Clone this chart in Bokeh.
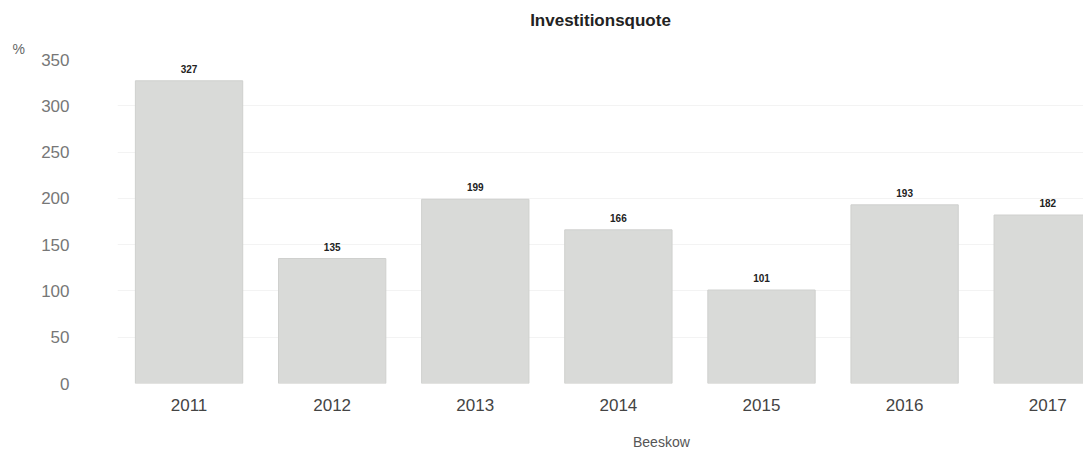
from bokeh.plotting import figure
from bokeh.layouts import column
from bokeh.models import Range1d, FixedTicker, Legend, LegendItem, ColumnDataSource, Title
from bokeh.core.properties import value
from bokeh.embed import file_html
from bokeh.resources import INLINE

years = [2011, 2012, 2013, 2014, 2015, 2016, 2017]
values = [327, 135, 199, 166, 101, 193, 182]
series_name = "Beeskow"
title_text = "Investitionsquote"
unit_text = "%"
y_ticks = [0, 50, 100, 150, 200, 250, 300, 350]

bar_fill = "#d9dad8"
bar_line = "#cfd0ce"

src = ColumnDataSource(dict(x=years, top=values, lbl=[str(v) for v in values]))

p = figure(width=1083, height=420, output_backend="svg", toolbar_location=None,
           x_range=Range1d(2010.5, 2017.25), y_range=Range1d(0, 350),
           min_border_left=117, min_border_right=0, min_border_top=59, min_border_bottom=37)
p.outline_line_color = None
p.background_fill_color = "white"

p.title.text = title_text
p.title.align = "center"
p.title.offset = -44
p.title.standoff = 12
p.title.text_font = "Liberation Sans"
p.title.text_font_size = "17px"
p.title.text_font_style = "bold"
p.title.text_color = "#222222"

unit = Title(text=unit_text, align="left", offset=-105, standoff=6,
             text_font="Liberation Sans", text_font_size="14px",
             text_font_style="normal", text_color="#666666")
p.add_layout(unit, "above")

p.vbar(x="x", top="top", width=0.75, source=src, fill_color=bar_fill,
       line_color=bar_line, line_width=1)

p.text(x="x", y="top", text="lbl", source=src, text_align="center", text_baseline="bottom",
       y_offset=-8, text_font=value("Liberation Sans"), text_font_size="10px",
       text_font_style="bold", text_color="#222222")

p.xaxis.ticker = FixedTicker(ticks=years)
p.xaxis.axis_line_color = None
p.xaxis.major_tick_line_color = None
p.xaxis.minor_tick_line_color = None
p.xaxis.major_label_text_font = "Liberation Sans"
p.xaxis.major_label_text_font_size = "17px"
p.xaxis.major_label_text_color = "#444444"
p.xaxis.major_label_standoff = 9

p.yaxis.ticker = FixedTicker(ticks=y_ticks)
p.yaxis.axis_line_color = None
p.yaxis.major_tick_line_color = None
p.yaxis.minor_tick_line_color = None
p.yaxis.major_label_text_font = "Liberation Sans"
p.yaxis.major_label_text_font_size = "17px"
p.yaxis.major_label_text_color = "#777777"
p.yaxis.major_label_standoff = 42

p.xgrid.grid_line_color = None
p.ygrid.grid_line_color = "#f3f3f3"

# legend strip below the chart
p2 = figure(width=1083, height=37, output_backend="svg", toolbar_location=None,
            x_range=Range1d(0, 1), y_range=Range1d(0, 1),
            x_axis_location=None, y_axis_location=None,
            min_border_left=0, min_border_right=0, min_border_top=0, min_border_bottom=0)
p2.outline_line_color = None
p2.xgrid.grid_line_color = None
p2.ygrid.grid_line_color = None
r_leg = p2.vbar(x=[], top=[], width=0.1, fill_color=bar_fill, line_color=bar_line)

legend = Legend(items=[LegendItem(label=series_name, renderers=[r_leg])], orientation="horizontal",
                location=(500, 7), border_line_color=None, background_fill_alpha=0,
                label_text_font="Liberation Sans",
                label_text_font_size="14px", label_text_color="#555555",
                glyph_width=10, glyph_height=10, margin=0, padding=4, label_standoff=6)
p2.add_layout(legend, "center")

layout = column(p, p2, spacing=0)

open("out.html", "w").write(file_html(layout, INLINE))
